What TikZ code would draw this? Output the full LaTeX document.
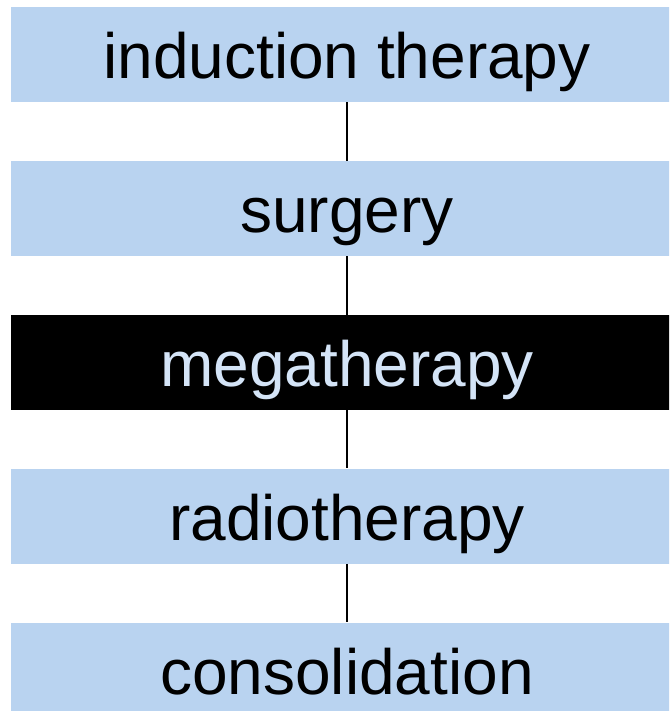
\documentclass[tikz,border=0pt]{standalone}
\usepackage{fontspec}
\setmainfont{Liberation Sans}
\definecolor{PaleBlue}{RGB}{185, 211, 240}
\definecolor{LightText}{RGB}{212, 228, 247}
\usetikzlibrary{positioning}

\begin{document}
\begin{tikzpicture}[x=1pt, y=1pt,
  phase/.style={fill=PaleBlue, text=black, minimum width=672pt, minimum height=95pt,
    text height=72pt, text depth=23pt, inner sep=0pt, font=\fontsize{64}{64}\selectfont},
  current/.style={phase, fill=black, text=LightText},
  link/.style={draw=black, line width=1.6pt}]
\useasboundingbox (0,0) rectangle (669,711);
\clip (0,0) rectangle (669,711);
\node[phase] (induction) at (347,656.5) {induction therapy};
\node[phase, below=58.5pt of induction] (surgery) {surgery};
\node[current, below=58.5pt of surgery] (mega) {megatherapy};
\node[phase, below=58.5pt of mega] (radio) {radiotherapy};
\node[phase, below=58.5pt of radio] (consol) {consolidation};
\draw[link] (induction) -- (surgery);
\draw[link] (surgery) -- (mega);
\draw[link] (mega) -- (radio);
\draw[link] (radio) -- (consol);
\end{tikzpicture}
\end{document}
